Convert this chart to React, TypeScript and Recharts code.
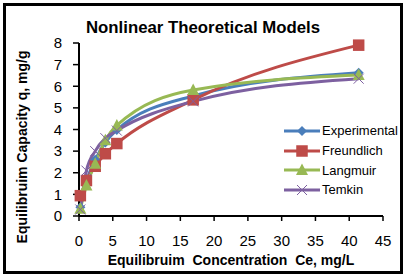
import { LineChart, Line, XAxis, YAxis } from "recharts";

// equilibrium concentration Ce (mg/L) shared by every series
const ce = [0.2, 1.1, 2.4, 3.9, 5.6, 16.9, 41.4];

// equilibrium capacity q (mg/g)
const experimental = [0.4, 1.6, 2.6, 3.4, 3.98, 5.55, 6.62];
const freundlich = [0.94, 1.64, 2.3, 2.88, 3.35, 5.37, 7.9];
const langmuir = [0.33, 1.41, 2.42, 3.5, 4.19, 5.83, 6.52];
const temkin = [0.3, 2.1, 3.0, 3.6, 3.95, 5.3, 6.35];

const xTicks = [0, 5, 10, 15, 20, 25, 30, 35, 40, 45];
const yTicks = [0, 1, 2, 3, 4, 5, 6, 7, 8];

const title = "Nonlinear Theoretical Models";
const xTitle = "Equilibruim  Concentration  Ce, mg/L";
const yTitle = "Equilibruim Capacity q, mg/g";

type Shape = "diamond" | "square" | "triangle" | "cross";

const series: { key: string; name: string; color: string; shape: Shape }[] = [
  { key: "experimental", name: "Experimental", color: "#4A7EBB", shape: "diamond" },
  { key: "freundlich", name: "Freundlich", color: "#BE4B48", shape: "square" },
  { key: "langmuir", name: "Langmuir", color: "#98B954", shape: "triangle" },
  { key: "temkin", name: "Temkin", color: "#7D60A0", shape: "cross" },
];

const rows = ce.map((x, i) => ({
  ce: x,
  experimental: experimental[i],
  freundlich: freundlich[i],
  langmuir: langmuir[i],
  temkin: temkin[i],
}));

const FONT = "'Liberation Sans', Arial, sans-serif";

function Marker({ shape, cx, cy, color }: { shape: Shape; cx: number; cy: number; color: string }) {
  if (shape === "diamond") {
    return (
      <polygon
        points={`${cx},${cy - 5} ${cx + 5},${cy} ${cx},${cy + 5} ${cx - 5},${cy}`}
        fill={color}
      />
    );
  }
  if (shape === "square") {
    return <rect x={cx - 5.75} y={cy - 5.75} width={11.5} height={11.5} fill={color} />;
  }
  if (shape === "triangle") {
    return (
      <polygon
        points={`${cx},${cy - 6.5} ${cx + 6},${cy + 5} ${cx - 6},${cy + 5}`}
        fill={color}
      />
    );
  }
  return (
    <g stroke={color} strokeWidth={1}>
      <line x1={cx - 5} y1={cy - 5} x2={cx + 5} y2={cy + 5} />
      <line x1={cx - 5} y1={cy + 5} x2={cx + 5} y2={cy - 5} />
    </g>
  );
}

// legend drawn as an overlay so it doesn't eat into the plot area
function LegendBox() {
  return (
    <div
      style={{
        position: "absolute",
        left: 283,
        top: 121,
        fontFamily: FONT,
        fontSize: 13,
        color: "#000",
        pointerEvents: "none",
      }}
    >
      {series.map((s) => (
        <div key={s.key} style={{ display: "flex", alignItems: "center", height: 19.7 }}>
          <svg width={38} height={16} style={{ display: "block" }}>
            <line x1={1} y1={8} x2={37} y2={8} stroke={s.color} strokeWidth={3} />
            <Marker shape={s.shape} cx={19} cy={8} color={s.color} />
          </svg>
          <span style={{ marginLeft: 1 }}>{s.name}</span>
        </div>
      ))}
    </div>
  );
}

export default function App() {
  return (
    <div
      style={{
        position: "absolute",
        left: 0,
        top: 0,
        width: 407,
        height: 279,
        background: "#fff",
      }}
    >
      <LineChart
        width={407}
        height={279}
        data={rows}
        margin={{ top: 43, right: 24, bottom: 33, left: 0 }}
      >
        <XAxis
          dataKey="ce"
          type="number"
          domain={[0, 45]}
          ticks={xTicks}
          height={30}
          axisLine={{ stroke: "#000", strokeWidth: 2 }}
          tickLine={{ stroke: "#000", strokeWidth: 1.5 }}
          tickSize={5}
          tickMargin={14}
          tick={{ fill: "#000", fontSize: 15, fontFamily: FONT }}
          interval={0}
        />
        <YAxis
          type="number"
          domain={[0, 8]}
          ticks={yTicks}
          width={79}
          axisLine={{ stroke: "#000", strokeWidth: 2 }}
          tickLine={{ stroke: "#000", strokeWidth: 1.5 }}
          tickSize={6}
          tickMargin={11}
          tick={{ fill: "#000", fontSize: 15, fontFamily: FONT }}
          interval={0}
        />
        {series.map((s) => (
          <Line
            key={s.key}
            dataKey={s.key}
            name={s.name}
            type="monotone"
            stroke={s.color}
            strokeWidth={3}
            isAnimationActive={false}
            dot={(p: any) => (
              <Marker
                key={`${s.key}-${p.index}`}
                shape={s.shape}
                cx={p.cx}
                cy={p.cy}
                color={s.color}
              />
            )}
            activeDot={false}
          />
        ))}
      </LineChart>
      <LegendBox />
      <svg
        width={407}
        height={279}
        style={{ position: "absolute", left: 0, top: 0, pointerEvents: "none" }}
      >
        <text
          x={203}
          y={33}
          textAnchor="middle"
          fontFamily={FONT}
          fontWeight="bold"
          fontSize={16.8}
          fill="#000"
        >
          {title}
        </text>
        <text
          x={231}
          y={265}
          textAnchor="middle"
          fontFamily={FONT}
          fontWeight="bold"
          fontSize={14}
          fill="#000"
          style={{ whiteSpace: "pre" }}
        >
          {xTitle}
        </text>
        <text
          x={0}
          y={0}
          transform="translate(27,147) rotate(-90)"
          textAnchor="middle"
          fontFamily={FONT}
          fontWeight="bold"
          fontSize={14}
          fill="#000"
        >
          {yTitle}
        </text>
      </svg>
      <div
        style={{
          position: "absolute",
          left: 3,
          top: 3,
          width: 400,
          height: 271,
          border: "3px solid #000",
          boxSizing: "border-box",
          pointerEvents: "none",
        }}
      />
    </div>
  );
}
